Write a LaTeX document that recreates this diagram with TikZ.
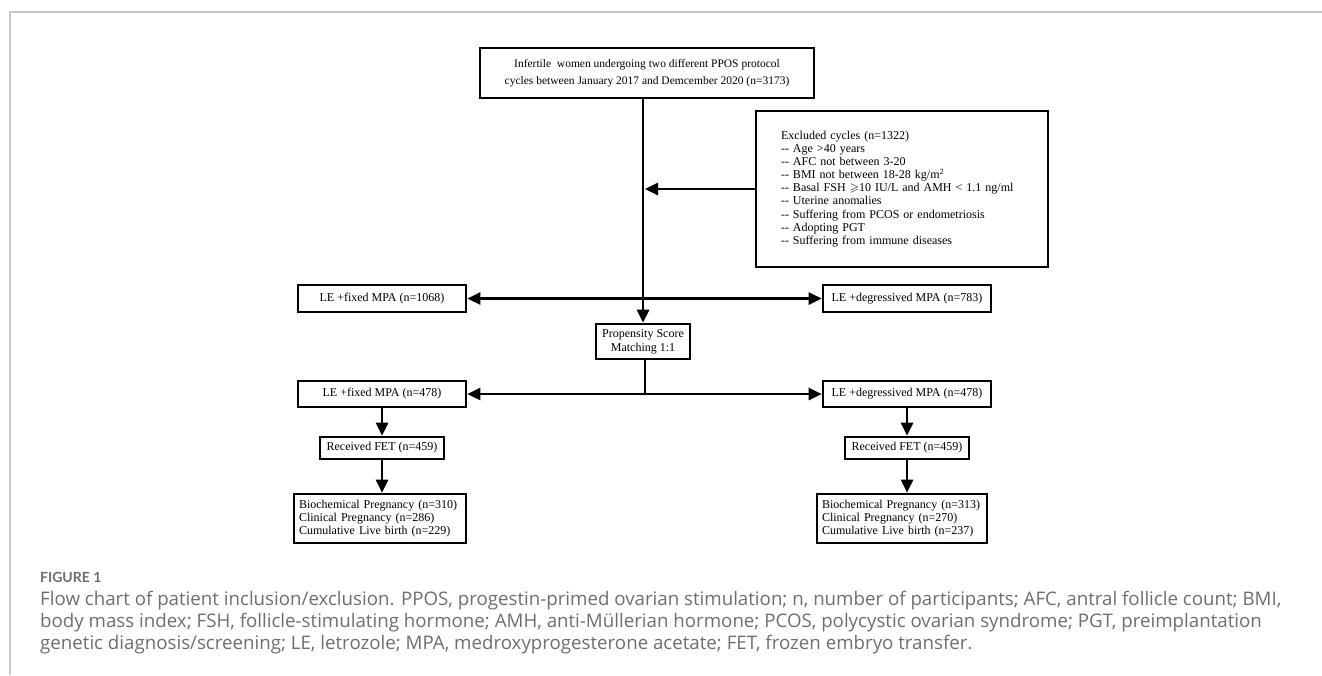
\documentclass[tikz,border=0pt]{standalone}
\usepackage{fontspec}
\usepackage{amssymb}
\setmainfont{Liberation Serif}
\newfontfamily\capfont{Open Sans}
\newfontfamily\labfont{Lato}
\usetikzlibrary{arrows.meta}
\definecolor{capgray}{HTML}{6E6E6E}
\definecolor{framegray}{HTML}{C8C8C8}
\begin{document}
\begin{tikzpicture}[x=1pt,y=-1pt,
  box/.style={draw=black, line width=2.6pt, fill=white, inner sep=0pt, align=center,
              font=\fontsize{12}{13.5}\selectfont},
  tip/.tip={Triangle[length=13pt,width=12pt]},
  conn/.style={line width=2.6pt, -tip},
  dconn/.style={line width=2.6pt, tip-tip},
  plain/.style={line width=2.6pt},
  captext/.style={anchor=west, inner sep=0pt, text=capgray, font=\capfont\fontsize{18.7}{22}\selectfont}
]
\useasboundingbox (0,0) rectangle (1322,675);
% frame
\draw[framegray, line width=1.5pt] (10,675) -- (10,12) -- (1322,12);

% nodes
\node[box, minimum width=334pt, minimum height=50pt, font=\fontsize{11.5}{17}\selectfont] (top) at (647,73)
  {Infertile\ \ women undergoing two different PPOS protocol\\cycles between January 2017 and Demcember 2020 (n=3173)};
\node[box, text width=242pt, inner xsep=25pt, minimum height=156pt, align=left,
      font=\fontsize{12}{13.1}\selectfont] (excl) at (902,189)
  {Excluded cycles (n=1322)\\
   -{}- Age >40 years\\
   -{}- AFC not between 3-20\\
   -{}- BMI not between 18-28 kg/m\textsuperscript{2}\\
   -{}- Basal FSH $\geqslant$10 IU/L and AMH < 1.1 ng/ml\\
   -{}- Uterine anomalies\\
   -{}- Suffering from PCOS or endometriosis\\
   -{}- Adopting PGT\\
   -{}- Suffering from immune diseases};
\node[box, minimum width=168pt, minimum height=27pt] (fixA) at (382,298.5) {LE +fixed MPA (n=1068)};
\node[box, minimum width=168pt, minimum height=27pt] (degA) at (907,298.5) {LE +degressived MPA (n=783)};
\node[box, minimum width=94pt, minimum height=35pt, font=\fontsize{12}{14}\selectfont] (psm) at (643,341.5) {Propensity Score\\Matching 1:1};
\node[box, minimum width=168pt, minimum height=26pt] (fixB) at (382,394) {LE +fixed MPA (n=478)};
\node[box, minimum width=168pt, minimum height=26pt] (degB) at (907,394) {LE +degressived MPA (n=478)};
\node[box, minimum width=124pt, minimum height=22pt] (fetA) at (382,448) {Received FET (n=459)};
\node[box, minimum width=124pt, minimum height=22pt] (fetB) at (907,448) {Received FET (n=459)};
\node[box, text width=162pt, inner xsep=5pt, minimum height=49pt, align=left, font=\fontsize{12}{13}\selectfont] (bioA) at (380,518.5)
  {Biochemical Pregnancy (n=310)\\Clinical Pregnancy (n=286)\\Cumulative Live birth (n=229)};
\node[box, text width=160pt, inner xsep=5pt, minimum height=49pt, align=left, font=\fontsize{12}{13}\selectfont] (bioB) at (902,518.5)
  {Biochemical Pregnancy (n=313)\\Clinical Pregnancy (n=270)\\Cumulative Live birth (n=237)};

% connectors
\draw[conn] (top.south -| psm.north) -- (psm.north);
\draw[conn] (excl.west) -- ([xshift=2pt]excl.west -| psm.north);
\draw[dconn] (fixA.east) -- (degA.west);
\coordinate (mid) at (psm.south |- fixB.east);
\draw[plain] ([xshift=2pt]psm.south) -- ([xshift=2pt]mid);
\draw[dconn] (fixB.east) -- (degB.west);
\draw[conn] (fixB.south) -- (fetA.north);
\draw[conn] (fetA.south) -- (bioA.north -| fetA.south);
\draw[conn] (degB.south) -- (fetB.north);
\draw[conn] (fetB.south) -- (bioB.north -| fetB.south);

% caption
\node[anchor=west, inner sep=0pt, text=capgray, font=\labfont\bfseries\fontsize{14}{15}\selectfont] (figlabel) at (40,577) {FIGURE 1};
\node[captext] (cap1) at (40,601) {Flow chart of patient inclusion/exclusion. PPOS, progestin-primed ovarian stimulation; n, number of participants; AFC, antral follicle count; BMI,};
\node[captext] (cap2) at (40,623) {body mass index; FSH, follicle-stimulating hormone; AMH, anti-Müllerian hormone; PCOS, polycystic ovarian syndrome; PGT, preimplantation};
\node[captext] (cap3) at (40,645) {genetic diagnosis/screening; LE, letrozole; MPA, medroxyprogesterone acetate; FET, frozen embryo transfer.};
\end{tikzpicture}
\end{document}
